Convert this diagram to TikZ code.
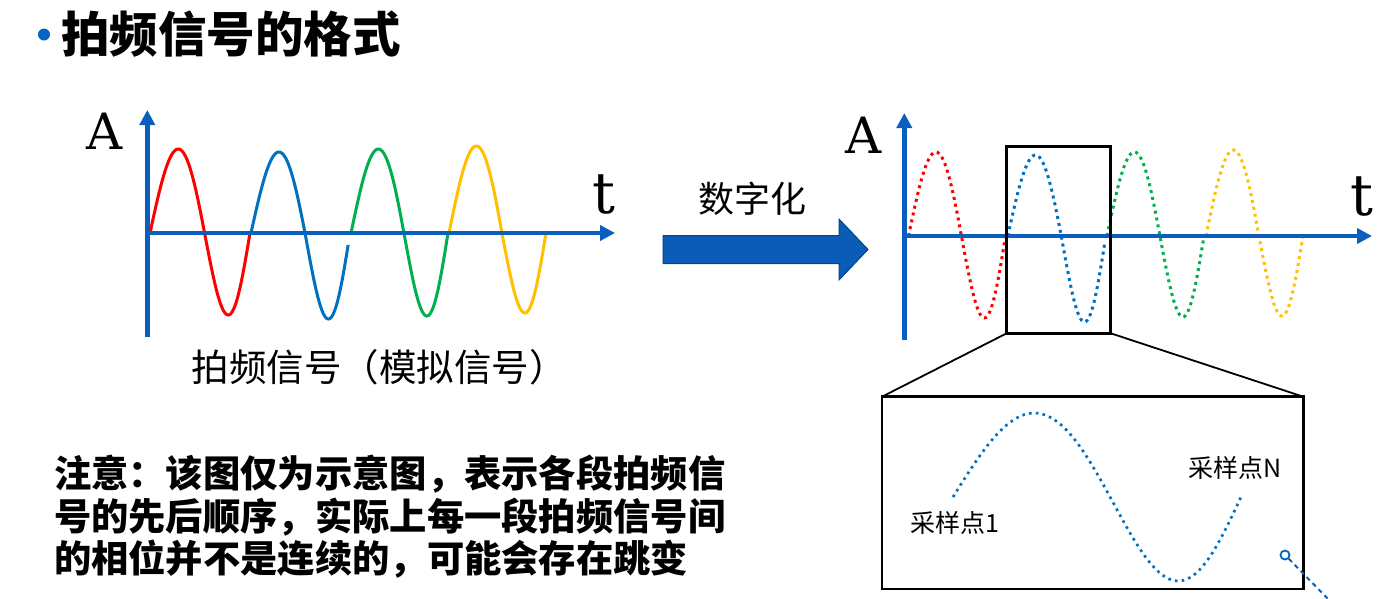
\documentclass[tikz,border=0pt]{standalone}
\usepackage{fontspec}
\newfontfamily\cjk{Noto Sans CJK SC}
\newfontfamily\serifA{DejaVu Serif}
\usetikzlibrary{arrows.meta}
\definecolor{axisblue}{HTML}{0A5EBE}
\definecolor{wred}{HTML}{FF0000}
\definecolor{wblue}{HTML}{0070C0}
\definecolor{wgreen}{HTML}{00B050}
\definecolor{wyellow}{HTML}{FFC000}
\definecolor{arrowblue}{HTML}{0B5CB6}
\definecolor{magblue}{HTML}{0563C1}
% #1 x0, #2 y0, #3 width, #4 amp up, #5 amp down, #6 style, #7 end phase
\newcommand\beatwave[7]{%
  \draw[#6] plot[domain=0:#7, samples=100, smooth, variable=\t]
    ({#1+#3*(\t/360)+(#3/99)*4.5*sin(\t/2)}, {#2-(\t<180?#4:#5)*sin(\t)});
}
\begin{document}
\begin{tikzpicture}[x=1pt,y=-1pt,
  axis/.style={axisblue, line width=4.5pt, -{Triangle[length=15pt,width=15pt]}},
  solidwave/.style={line width=3pt},
  dotwave/.style={line width=3pt, dash pattern=on 3pt off 4pt},
  zoomdot/.style={wblue, line width=2.7pt, dash pattern=on 2.6pt off 4.2pt},
  lbl/.style={inner sep=0pt, outer sep=0pt},
  axlbl/.style={lbl, font=\serifA\fontsize{50}{52}\selectfont},
  tlbl/.style={lbl, font=\serifA\fontsize{57}{59}\selectfont},
  cjktext/.style={lbl, font=\cjk\fontsize{#1}{#1}\selectfont},
  cjkbold/.style={lbl, font=\cjk\bfseries\fontsize{#1}{#1}\selectfont},
  framebox/.style={draw=black, line width=2.5pt, inner sep=0pt, outer sep=0pt}
]
\useasboundingbox (0,0) rectangle (1392,598);

% title
\node[circle, fill=magblue, minimum size=12pt, inner sep=0pt] (bullet) at (44,34.5) {};
\node[cjkbold=48.5, anchor=base west] (title) at (61,52) {拍频信号的格式};

% ---------- left plot ----------
\coordinate (LyB) at (147.3,337);
\coordinate (LyT) at (147.3,110);
\coordinate (LxA) at (145,233);
\coordinate (LxT) at (615,233);
\beatwave{150}{233}{100}{84}{82}{solidwave, wred}{360}
\beatwave{251}{233}{99}{81}{86}{solidwave, wblue}{352}
\beatwave{351}{233}{97}{84}{83}{solidwave, wgreen}{360}
\beatwave{449}{233}{97}{87}{80}{solidwave, wyellow}{360}
\draw[axis] (LyB) -- (LyT);
\draw[axis] (LxA) -- (LxT);
\node[axlbl, anchor=base] (LA) at (105,149) {A};
\node[tlbl, anchor=base] (Lt) at (604,213) {t};
\node[cjktext=37.5, anchor=base] (Lcap) at (379,381) {拍频信号（模拟信号）};

% ---------- big arrow ----------
\node[cjktext=36, anchor=base] (dig) at (752,212) {数字化};
\draw[fill=arrowblue, draw=arrowblue!75!black, line width=1pt]
  (663,235.5) -- (839,235.5) -- (839,219) -- (868,249.5) -- (839,280) -- (839,263.5) -- (663,263.5) -- cycle;

% ---------- right plot ----------
\coordinate (RyB) at (904.3,340);
\coordinate (RyT) at (904.3,113);
\coordinate (RxA) at (902,236);
\coordinate (RxT) at (1372,236);
\beatwave{908.5}{236}{97}{84}{82}{dotwave, wred}{360}
\beatwave{1007.8}{236}{98}{81}{86}{dotwave, wblue}{356}
\beatwave{1107}{236}{97}{84}{81}{dotwave, wgreen}{360}
\beatwave{1206}{236}{97}{86}{80}{dotwave, wyellow}{360}
\draw[axis] (RyB) -- (RyT);
\draw[axis] (RxA) -- (RxT);
\node[axlbl, anchor=base] (RA) at (863.5,153) {A};
\node[tlbl, anchor=base] (Rt) at (1362,215) {t};

% zoom boxes
\node[framebox, minimum width=104pt, minimum height=186.6pt] (zb) at (1058.7,240) {};
\node[framebox, minimum width=421.3pt, minimum height=192.3pt] (bigbox) at (1092.65,492.85) {};
\draw[black, line width=1.8pt] (zb.south west) -- (bigbox.north west);
\draw[black, line width=1.8pt] (zb.south east) -- (bigbox.north east);
\beatwave{953}{497}{288}{84}{84}{zoomdot}{360}
\node[cjktext=25, anchor=base west] (s1) at (910,532.5) {采样点1};
\node[cjktext=25, anchor=base west] (sN) at (1188,477.5) {采样点N};

% magnifier cursor
\node[circle, draw=magblue, line width=1.8pt, minimum size=9pt, inner sep=0pt] (mag) at (1285,555) {};
\coordinate (magend) at (1330,601);
\draw[magblue, line width=2pt, dash pattern=on 4.5pt off 4pt] (mag.south east) -- (magend);

% note
\node[cjkbold=37.3, anchor=base west] (n1) at (54,487) {注意：该图仅为示意图，表示各段拍频信};
\node[cjkbold=37.3, anchor=base west] (n2) at (54,530) {号的先后顺序，实际上每一段拍频信号间};
\node[cjkbold=37.3, anchor=base west] (n3) at (54,572) {的相位并不是连续的，可能会存在跳变};
\end{tikzpicture}
\end{document}
